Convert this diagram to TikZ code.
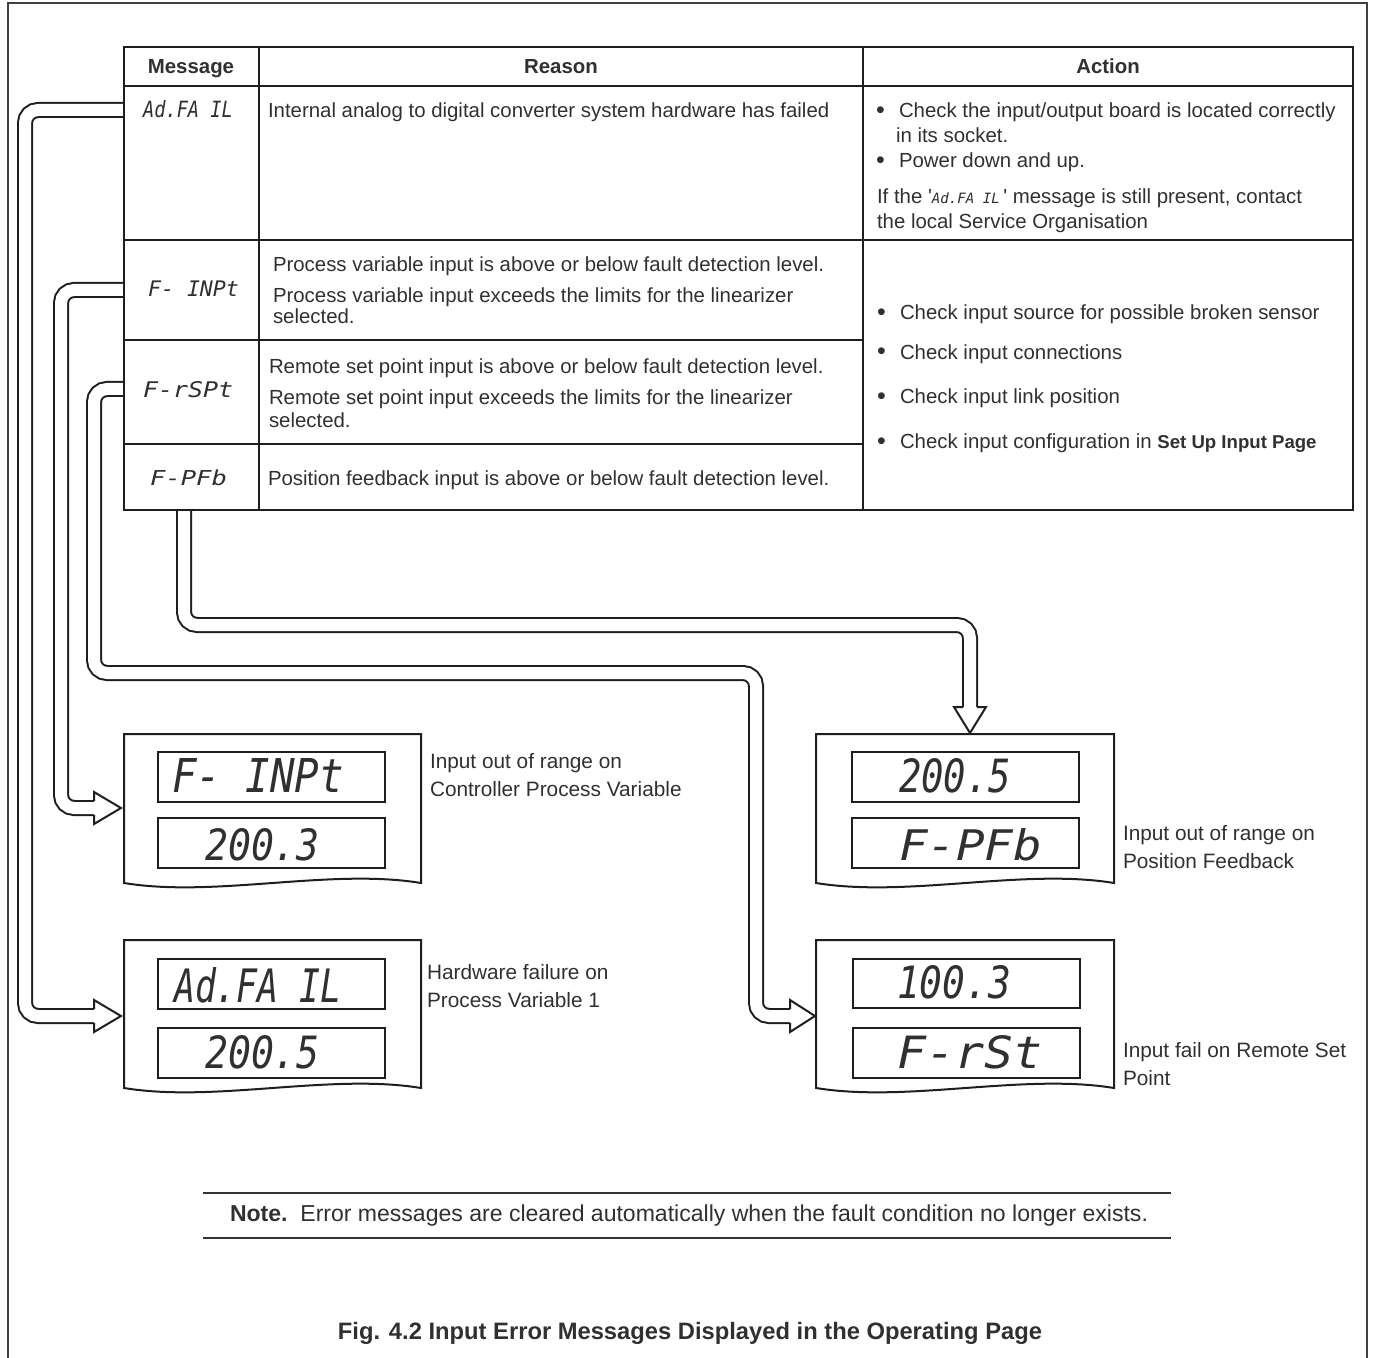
\documentclass[tikz,border=0pt]{standalone}
\usepackage{fontspec}
\setmainfont{Liberation Sans}
\newfontfamily\segfont{DejaVu Sans Mono}
\usetikzlibrary{calc}
\definecolor{ink}{HTML}{1E1E1E}
\definecolor{txtc}{HTML}{303030}
\newcommand\seg[3]{\resizebox{#1}{#2}{\segfont\itshape #3}}
\newcommand\blt{{\fontsize{12.5}{12}\selectfont •}}
\newcommand\headR[2]{%
  \fill[white] ($(#1)+(0,-16)$) -- (#2) -- ($(#1)+(0,16)$) -- cycle;
  \draw[headline] ($(#1)+(0,-7)$) -- ($(#1)+(0,-16)$) -- (#2) -- ($(#1)+(0,16)$) -- ($(#1)+(0,7)$);}
\newcommand\headD[2]{%
  \fill[white] ($(#1)+(-16,0)$) -- (#2) -- ($(#1)+(16,0)$) -- cycle;
  \draw[headline] ($(#1)+(-7,0)$) -- ($(#1)+(-16,0)$) -- (#2) -- ($(#1)+(16,0)$) -- ($(#1)+(7,0)$);}
\begin{document}
\begin{tikzpicture}[x=0.5pt,y=-0.5pt,
  every node/.style={inner sep=0pt, outer sep=0pt, text=txtc},
  txt/.style={anchor=base west, font=\fontsize{10.2}{12}\selectfont},
  hdr/.style={anchor=base, font=\fontsize{10.2}{12}\selectfont\bfseries},
  captxt/.style={anchor=base west, font=\fontsize{10.4}{12}\selectfont},
  segtxt/.style={anchor=base west},
  band/.style={draw=ink, line width=1pt, double=white, double distance=6pt, rounded corners=6.5pt},
  headline/.style={draw=ink, line width=1pt, line join=miter},
  tblout/.style={draw=ink, line width=1.25pt},
  tblin/.style={draw=ink, line width=1pt},
  thin/.style={draw=ink, line width=0.6pt},
  screen/.style={draw=ink, line width=0.6pt},
  dispbox/.style={draw=ink, line width=1pt, fill=white},
  frame/.style={draw=black!75, line width=0.75pt}
]
\useasboundingbox (0,0) rectangle (1375,1358);

% page frame
\draw[frame] (8,1358) -- (8,3) -- (1367,3) -- (1367,1358);

% ---------- connector coordinates ----------
\coordinate (a1s) at (124,110);  \coordinate (a1b) at (25,110);
\coordinate (a1c) at (25,1016);  \coordinate (a1e) at (94,1016); \coordinate (d2in) at (121,1016);
\coordinate (a2s) at (124,290);  \coordinate (a2b) at (61,290);
\coordinate (a2c) at (61,808);   \coordinate (a2e) at (94,808);  \coordinate (d1in) at (121,808);
\coordinate (a3s) at (124,389);  \coordinate (a3b) at (94,389);
\coordinate (a3c) at (94,673);   \coordinate (a3d) at (756,673);
\coordinate (a3f) at (756,1016); \coordinate (a3e) at (790,1016); \coordinate (d4in) at (815,1016);
\coordinate (a4s) at (184,510);  \coordinate (a4b) at (184,625);
\coordinate (a4c) at (970,625);  \coordinate (a4e) at (970,707); \coordinate (d3in) at (970,733);

% ---------- connectors ----------
\draw[band] (a1s) -- (a1b) -- (a1c) -- (a1e);
\draw[band] (a2s) -- (a2b) -- (a2c) -- (a2e);
\draw[band] (a3s) -- (a3b) -- (a3c) -- (a3d) -- (a3f) -- (a3e);
\draw[band] (a4s) -- (a4b) -- (a4c) -- (a4e);
\headR{a1e}{d2in}
\headR{a2e}{d1in}
\headR{a3e}{d4in}
\headD{a4e}{d3in}

% ---------- table ----------
\draw[tblout] (124,47) rectangle (1353,510);
\draw[tblin] (124,86) -- (1353,86);
\draw[tblin] (259,47) -- (259,510);
\draw[tblin] (863,47) -- (863,510);
\draw[tblin] (124,240) -- (259,240); \draw[thin] (259,240) -- (1353,240);
\draw[tblin] (124,340) -- (259,340); \draw[thin] (259,340) -- (863,340);
\draw[tblin] (124,444) -- (259,444); \draw[thin] (259,444) -- (863,444);

\node[hdr] (hmsg) at (191,74) {Message};
\node[hdr] (hrea) at (561,74) {Reason};
\node[hdr] (hact) at (1108,74) {Action};

% messages
\node[segtxt] (m1) at (143,118) {\seg{45pt}{8.5pt}{Ad.FA IL}};
\node[segtxt] (m2) at (148,297) {\seg{45.5pt}{7.8pt}{F- INPt}};
\node[segtxt] (m3) at (143,398) {\seg{45pt}{8pt}{F-rSPt}};
\node[segtxt] (m4) at (150,485) {\seg{38.5pt}{7.8pt}{F-PFb}};

% reasons
\node[txt] (r1) at (268,118) {Internal analog to digital converter system hardware has failed};
\node[txt] (r2a) at (273,272) {Process variable input is above or below fault detection level.};
\node[txt] (r2b) at (273,303) {Process variable input exceeds the limits for the linearizer};
\node[txt] (r2c) at (273,324) {selected.};
\node[txt] (r3a) at (269,373) {Remote set point input is above or below fault detection level.};
\node[txt] (r3b) at (269,405) {Remote set point input exceeds the limits for the linearizer};
\node[txt] (r3c) at (269,428) {selected.};
\node[txt] (r4) at (268,485) {Position feedback input is above or below fault detection level.};

% actions
\node[txt] (b1) at (876,119) {\blt};
\node[txt] (t1) at (899,118) {Check the input/output board is located correctly};
\node[txt] (t1b) at (896,143) {in its socket.};
\node[txt] (b2) at (876,169) {\blt};
\node[txt] (t2) at (899,168) {Power down and up.};
\node[txt] (t3) at (877,204) {If the \textquotesingle\seg{34pt}{5.4pt}{Ad.FA IL}\,\textquotesingle\ message is still present, contact};
\node[txt] (t3b) at (877,229) {the local Service Organisation};
\node[txt] (b4) at (877,321) {\blt};
\node[txt] (t4) at (900,320) {Check input source for possible broken sensor};
\node[txt] (b5) at (877,360) {\blt};
\node[txt] (t5) at (900,359) {Check input connections};
\node[txt] (b6) at (877,404) {\blt};
\node[txt] (t6) at (900,403) {Check input link position};
\node[txt] (b7) at (877,449) {\blt};
\node[txt] (t7) at (900,448) {Check input configuration in {\fontsize{9.3}{11}\selectfont\bfseries Set Up Input Page}};

% ---------- displays ----------
% D1
\draw[dispbox] (124,734) -- (421,734) -- (421,883) .. controls (330,868) and (215,898) .. (124,883) -- cycle;
\draw[screen] (158,752) rectangle (385,802);
\draw[screen] (158,818) rectangle (385,868);
\node[segtxt] (d1a) at (172,792) {\seg{86pt}{17pt}{F- INPt}};
\node[segtxt] (d1b) at (205,860) {\seg{57.5pt}{16pt}{200.3}};
\node[captxt] (c1a) at (430,768) {Input out of range on};
\node[captxt] (c1b) at (430,796) {Controller Process Variable};
% D2
\draw[dispbox] (124,940) -- (421,940) -- (421,1088) .. controls (330,1073) and (215,1103) .. (124,1088) -- cycle;
\draw[screen] (158,959) rectangle (385,1009);
\draw[screen] (158,1028) rectangle (385,1078);
\node[segtxt] (d2a) at (174,1002) {\seg{84pt}{17.5pt}{Ad.FA IL}};
\node[segtxt] (d2b) at (205,1068) {\seg{57.5pt}{16.5pt}{200.5}};
\node[captxt] (c2a) at (427,979) {Hardware failure on};
\node[captxt] (c2b) at (427,1007) {Process Variable 1};
% D3
\draw[dispbox] (816,734) -- (1114,734) -- (1114,883) .. controls (1023,868) and (908,898) .. (816,883) -- cycle;
\draw[screen] (852,752) rectangle (1079,802);
\draw[screen] (852,818) rectangle (1079,868);
\node[segtxt] (d3a) at (899,792) {\seg{56pt}{17pt}{200.5}};
\node[segtxt] (d3b) at (899,860) {\seg{71.5pt}{16pt}{F-PFb}};
\node[captxt] (c3a) at (1123,840) {Input out of range on};
\node[captxt] (c3b) at (1123,868) {Position Feedback};
% D4
\draw[dispbox] (816,940) -- (1114,940) -- (1114,1088) .. controls (1023,1073) and (908,1103) .. (816,1088) -- cycle;
\draw[screen] (853,959) rectangle (1080,1008);
\draw[screen] (853,1028) rectangle (1080,1078);
\node[segtxt] (d4a) at (897,998) {\seg{57pt}{16.5pt}{100.3}};
\node[segtxt] (d4b) at (897,1068) {\seg{72.5pt}{16.5pt}{F-rSt}};
\node[captxt] (c4a) at (1123,1057) {Input fail on Remote Set};
\node[captxt] (c4b) at (1123,1085) {Point};

% ---------- note and caption ----------
\draw[line width=0.7pt, draw=black!80] (203,1193) -- (1171,1193);
\draw[line width=0.7pt, draw=black!80] (203,1238) -- (1171,1238);
\node[anchor=base west] (note) at (230,1221) {\resizebox{459pt}{!}{\fontsize{11.5}{13}\selectfont\textbf{Note.}\ \ Error messages are cleared automatically when the fault condition no longer exists.}};
\node[anchor=base] (fig) at (690,1339) {\resizebox{352pt}{!}{\fontsize{11.9}{14}\selectfont\bfseries Fig. 4.2 Input Error Messages Displayed in the Operating Page}};
\end{tikzpicture}
\end{document}
